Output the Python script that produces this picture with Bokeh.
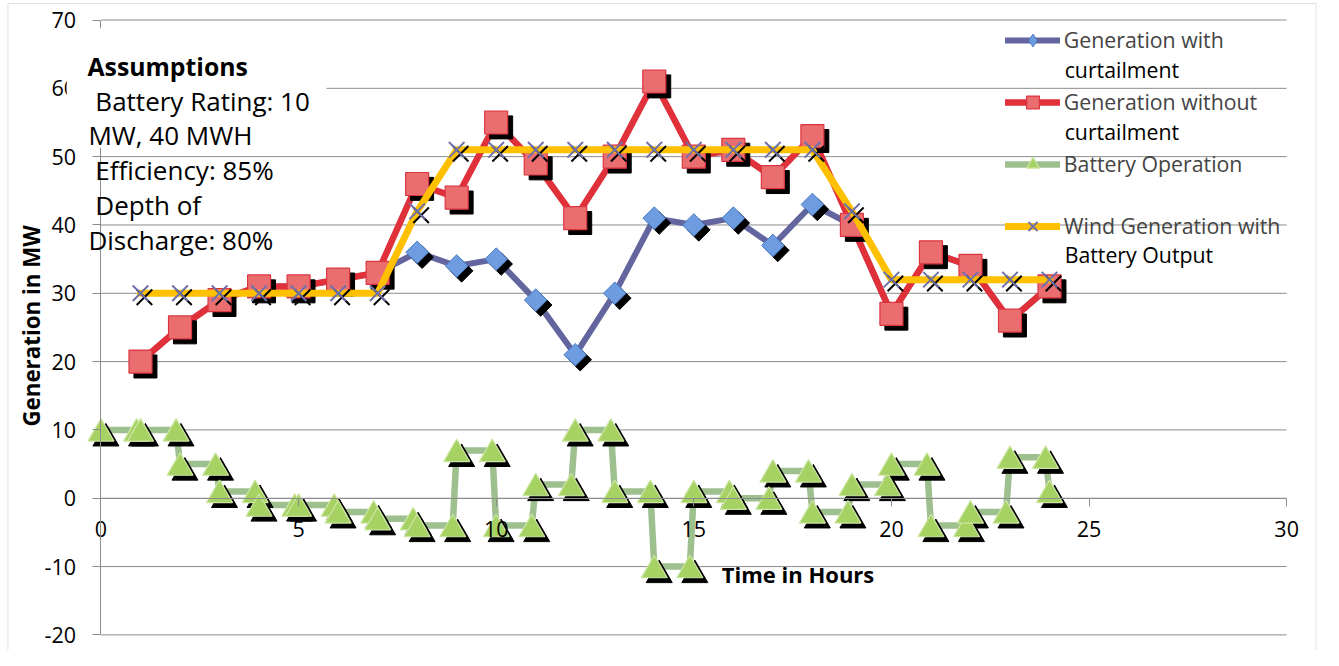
import math
from bokeh.plotting import figure
from bokeh.models import (Range1d, Legend, LegendItem, Label, BoxAnnotation,
                          FixedTicker, ColumnDataSource)
from bokeh.transform import dodge
from bokeh.embed import file_html
from bokeh.resources import INLINE

# ---------------- data ----------------
hours = list(range(1, 25))
gen_with_curtailment = [20, 25, 29, 31, 31, 32, 33, 36, 34, 35, 29, 21,
                        30, 41, 40, 41, 37, 43, 40, 27, 36, 34, 26, 31]
gen_without_curtailment = [20, 25, 29, 31, 31, 32, 33, 46, 44, 55, 49, 41,
                           50, 61, 50, 51, 47, 53, 40, 27, 36, 34, 26, 31]
wind_with_battery = [30, 30, 30, 30, 30, 30, 30, 42, 51, 51, 51, 51,
                     51, 51, 51, 51, 51, 51, 42, 32, 32, 32, 32, 32]
battery_time = [0, 0.9, 1, 1.9, 2, 2.9, 3, 3.9, 4, 4.9, 5, 5.9, 6, 6.9, 7,
                7.9, 8, 8.9, 9, 9.9, 10, 10.9, 11, 11.9, 12, 12.9, 13, 13.9, 14,
                14.9, 15, 15.9, 16, 16.9, 17, 17.9, 18, 18.9, 19, 19.9, 20,
                20.9, 21, 21.9, 22, 22.9, 23, 23.9, 24]
battery_output = [10, 10, 10, 10, 5, 5, 1, 1, -1, -1, -1, -1, -2, -2, -3,
                  -3, -4, -4, 7, 7, -4, -4, 2, 2, 10, 10, 1, 1, -10,
                  -10, 1, 1, 0, 0, 4, 4, -2, -2, 2, 2, 5,
                  5, -4, -4, -2, -2, 6, 6, 1]
x_ticks = [0, 5, 10, 15, 20, 25, 30]
y_ticks = [-20, -10, 0, 10, 20, 30, 40, 50, 60, 70]
legend_first_lines = ["Generation with", "Generation without",
                      "Battery Operation", "Wind Generation with"]
legend_second_lines = ["curtailment", "curtailment", "", "Battery Output"]
assumption_lines = ["Assumptions", "Battery Rating: 10", "MW, 40 MWH",
                    "Efficiency: 85%", "Depth of", "Discharge: 80%"]
x_title = "Time in Hours"
y_title = "Generation in MW"

# ---------------- layout helpers (reference-pixel -> data) ----------------
REF_W, REF_H = 1339, 666
X0, PX_PER_T = 101.7, 40.0
Y0, PX_PER_V = 510.0, 7.0


def tx(px):
    return (px - X0) / PX_PER_T


def vy(py):
    return (Y0 - py) / PX_PER_V


W, H = 1323, 650
KX, KY = W / REF_W, H / REF_H
FONT = "Open Sans"
GRID = "#8c8c8c"

src_h = ColumnDataSource(dict(t=hours, blue=gen_with_curtailment,
                              red=gen_without_curtailment, yel=wind_with_battery))
src_b = ColumnDataSource(dict(t=battery_time, v=battery_output))
src_g = ColumnDataSource(dict(y=y_ticks))

p = figure(width=W, height=H, output_backend="svg", toolbar_location=None,
           x_range=Range1d(tx(0), tx(REF_W)), y_range=Range1d(vy(REF_H), vy(0)),
           min_border=0)
p.outline_line_color = None
p.background_fill_color = "white"
p.border_fill_color = "white"
p.xgrid.visible = False
p.ygrid.visible = False

# axes crossing at the origin
p.xaxis.fixed_location = 0
p.yaxis.fixed_location = 0
p.xaxis.bounds = (x_ticks[0], x_ticks[-1])
p.yaxis.bounds = (y_ticks[0], y_ticks[-1])
p.xaxis.ticker = FixedTicker(ticks=x_ticks)
p.yaxis.ticker = FixedTicker(ticks=y_ticks)
p.xaxis.major_label_overrides = {t: str(t) for t in x_ticks}
p.yaxis.major_label_overrides = {t: str(t) for t in y_ticks}
for ax in (p.xaxis, p.yaxis):
    ax.axis_line_color = GRID
    ax.major_tick_line_color = GRID
    ax.major_tick_out = 8
    ax.major_tick_in = 0
    ax.minor_tick_line_color = None
    ax.major_label_text_font = FONT
    ax.major_label_text_font_size = "21.5px"
    ax.major_label_text_color = "black"
p.xaxis.major_label_standoff = 15
p.yaxis.major_label_standoff = 17

# horizontal grid lines between x = 0 and 30
p.segment(x0=x_ticks[0], x1=x_ticks[-1], y0="y", y1="y", source=src_g,
          line_color=GRID, line_width=1)

# screen-pixel shadow offsets converted to data units
SX = 5 / PX_PER_T
SY = -5 / PX_PER_V
TRI = -3.75 / PX_PER_V

# blue: generation with curtailment
l_blue = p.line("t", "blue", source=src_h, line_color="#62659E", line_width=6,
                line_join="round", line_cap="round")
p.scatter(dodge("t", SX), dodge("blue", SY), source=src_h, marker="square",
          size=16, angle=math.pi / 4, fill_color="black", line_color="black")
# narrow diamond used as the legend sample (fully covered by the markers below)
m_blue = p.scatter("t", "blue", source=src_h, marker="diamond", size=15,
                   fill_color="#6D9CE0", line_color="#4C7CC4", line_width=1)
p.scatter("t", "blue", source=src_h, marker="square", size=16,
          angle=math.pi / 4, fill_color="#6D9CE0", line_color="#4C7CC4",
          line_width=1)

# red: generation without curtailment
l_red = p.line("t", "red", source=src_h, line_color="#E0303A", line_width=6.5,
               line_join="round", line_cap="round")
p.scatter(dodge("t", SX), dodge("red", SY), source=src_h, marker="square",
          size=23, fill_color="black", line_color="black")
m_red = p.scatter("t", "red", source=src_h, marker="square", size=23,
                  fill_color="#EA6E70", line_color="#DC3540", line_width=1.2)

# green: battery operation
l_green = p.line("t", "v", source=src_b, line_color="#9EC08E", line_width=6.5,
                 line_join="round", line_cap="round")
p.scatter(dodge("t", SX), dodge("v", TRI + SY), source=src_b, marker="triangle",
          size=26, fill_color="black", line_color="black")
m_green = p.scatter("t", dodge("v", TRI), source=src_b, marker="triangle", size=26,
                    fill_color="#A6D163", line_color="#CDE6A3", line_width=1.2)

# yellow: wind generation with battery output
l_yel = p.line("t", "yel", source=src_h, line_color="#FFC000", line_width=7,
               line_join="round", line_cap="round")
p.scatter(dodge("t", SX * 0.8), dodge("yel", SY * 0.8), source=src_h, marker="x",
          size=22, line_color="black", line_width=2)
m_yel = p.scatter("t", "yel", source=src_h, marker="x", size=22,
                  line_color="#6E71AA", line_width=2)

# chart border
p.add_layout(BoxAnnotation(left=tx(7.5), right=tx(1331.5), top=vy(3), bottom=vy(720),
                           fill_alpha=0, line_color="#a0a0a0", line_width=1))

# white text-box area hiding the grid behind the first lines of text
p.add_layout(BoxAnnotation(left=tx(67), right=tx(330), top=vy(28.5), bottom=vy(151),
                           fill_color="white", fill_alpha=1.0, line_alpha=0))

# assumptions text box
a_left = [88, 96, 89, 96, 96, 89]
a_base = [66.7, 102.7, 137.3, 174, 209.3, 245]
for i, txt in enumerate(assumption_lines):
    p.add_layout(Label(x=tx(a_left[i]), y=vy(a_base[i]), text=txt, text_font=FONT,
                       text_font_size="24.8px" if i == 0 else "26px",
                       text_font_style="bold" if i == 0 else "normal",
                       text_color="black", text_baseline="alphabetic"))

# axis titles
p.add_layout(Label(x=tx(730), y=vy(588), text=x_title, text_font=FONT,
                   text_font_size="22px", text_font_style="bold",
                   text_color="black", text_baseline="middle"))
p.add_layout(Label(x=tx(31), y=vy(333.4), text=y_title, text_font=FONT,
                   text_font_size="22.3px", text_font_style="bold", angle=math.pi / 2,
                   text_color="black", text_baseline="middle", text_align="center"))

# legend (first text line beside each sample, wrapped second line below)
glyph_top = 40.7 * KY - 16
legend_h = 4 * 32 + 3 * 30
legend = Legend(items=[
    LegendItem(label=legend_first_lines[0], renderers=[l_blue, m_blue]),
    LegendItem(label=legend_first_lines[1], renderers=[l_red, m_red]),
    LegendItem(label=legend_first_lines[2], renderers=[l_green, m_green]),
    LegendItem(label=legend_first_lines[3], renderers=[l_yel, m_yel]),
], location=(1017 * KX, H - glyph_top - legend_h), padding=0, margin=0, spacing=30,
    glyph_width=55, glyph_height=32, label_height=32, label_standoff=4,
    label_text_font=FONT, label_text_font_size="21.3px",
    label_text_baseline="middle", background_fill_alpha=0, border_line_alpha=0)
p.add_layout(legend)

second_y = [70.7, 134.3, None, 260.7]
for i, txt in enumerate(legend_second_lines):
    if txt:
        p.add_layout(Label(x=tx(1077), y=vy(second_y[i]), text=txt, text_font=FONT,
                           text_font_size="21.3px", text_color="black",
                           text_baseline="middle"))

open("out.html", "w").write(file_html(p, INLINE))
